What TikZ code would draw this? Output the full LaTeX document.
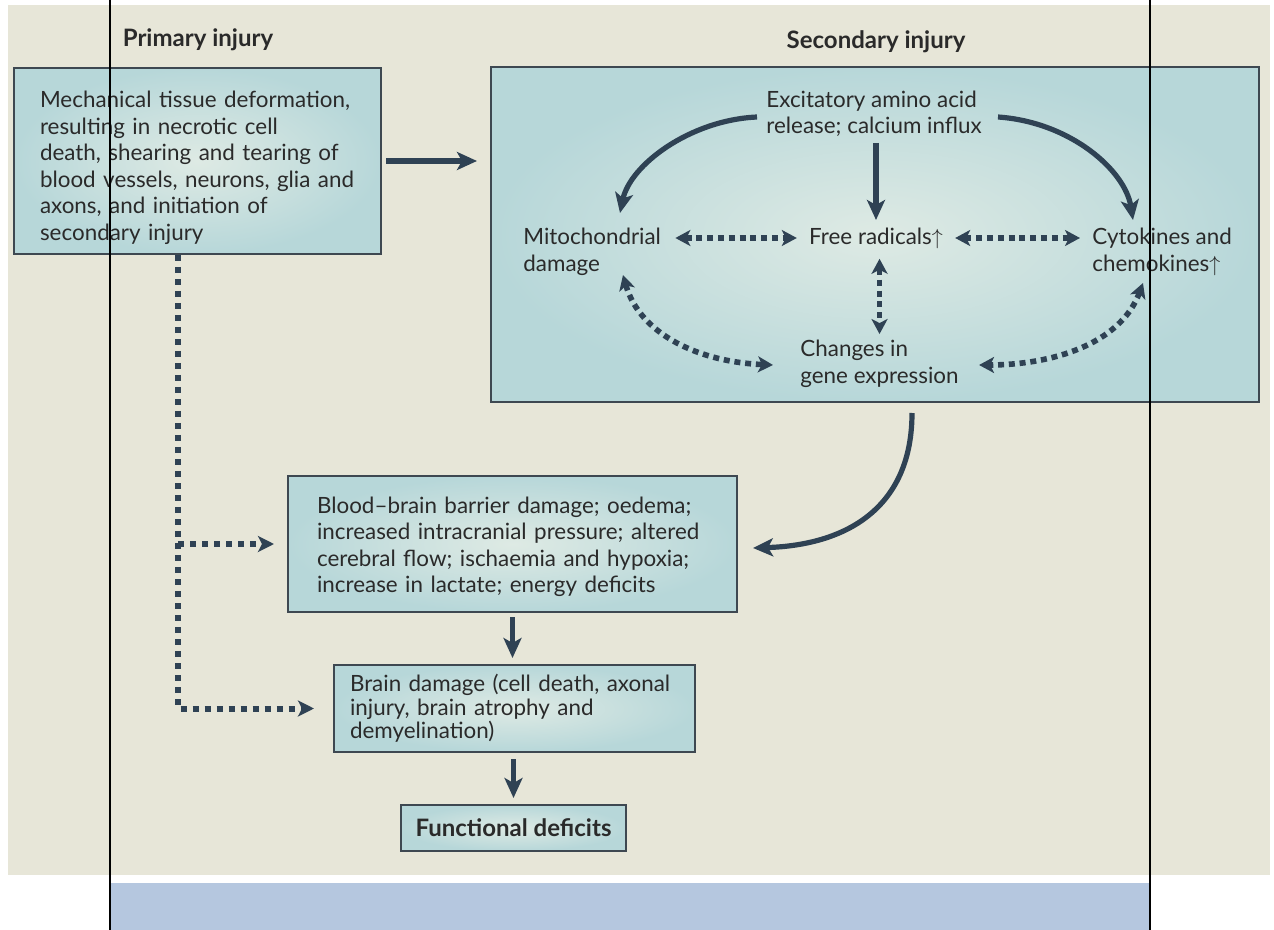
\documentclass[tikz,border=0pt]{standalone}
\usepackage{fontspec}
\setmainfont{Lato}
\usetikzlibrary{arrows.meta}

\definecolor{paper}{HTML}{E7E6D8}
\definecolor{strip}{HTML}{B5C7DF}
\definecolor{boxedge}{HTML}{B7D7D9}
\definecolor{boxmid}{HTML}{DEEAE4}
\definecolor{frame}{HTML}{3E4851}
\definecolor{ink}{HTML}{2F4254}
\definecolor{txt}{HTML}{2A2A2A}

\begin{document}
\begin{tikzpicture}[x=0.5pt, y=-0.5pt,
    font=\fontsize{11.2}{13.25}\selectfont, text=txt,
    box/.style={draw=frame, line width=1pt, inner color=boxmid, outer color=boxedge, align=left},
    heading/.style={font=\fontsize{12}{14}\selectfont\bfseries},
    label/.style={inner sep=0pt, align=left, anchor=west},
    sarrow/.style={draw=ink, line width=2.6pt, -{Stealth[length=10pt,width=9pt,inset=2.5pt]}},
    darrow/.style={draw=ink, line width=2.8pt, dash pattern=on 3pt off 2.4pt,
        {Stealth[length=7.5pt,width=8pt,inset=2pt]}-{Stealth[length=7.5pt,width=8pt,inset=2pt]}},
    dline/.style={draw=ink, line width=3pt, dash pattern=on 3pt off 3pt,
        -{Stealth[length=8pt,width=8pt,inset=2pt]}},
    ]
    \useasboundingbox (0,0) rectangle (1274,930);
    % backdrop
    \fill[paper] (8,5) rectangle (1270,875);
    \fill[strip] (110,883) rectangle (1150,930);

    % headings
    \node[heading] (primlbl) at (198,40) {Primary injury};
    \node[heading] (seclbl) at (876,42) {Secondary injury};

    % boxes
    \node[box, text width=157.5pt, inner xsep=13pt, minimum height=93pt] (prim) at (197.5,161)
        {\rule{0pt}{15pt}Mechanical tissue deformation,\\resulting in necrotic cell\\death, shearing and tearing of\\blood vessels, neurons, glia and\\axons, and initiation of\\secondary injury};
    \node[box, minimum width=384pt, minimum height=167.5pt] (sec) at (875,234.5) {};
    \node[box, text width=195.5pt, inner xsep=14.5pt, minimum height=68pt] (bbb) at (512.5,544)
        {\rule{0pt}{11pt}Blood--brain barrier damage; oedema;\\increased intracranial pressure; altered\\cerebral flow; ischaemia and hypoxia;\\increase in lactate; energy deficits};
    \node[box, text width=164.5pt, inner xsep=8pt, inner ysep=1pt, minimum height=43.5pt,
        font=\fontsize{11.2}{11.8}\selectfont] (damage) at (514.5,708.5)
        {Brain damage (cell death, axonal\\injury, brain atrophy and\\demyelination)};
    \node[box, minimum width=112.5pt, minimum height=23pt, font=\fontsize{12}{14}\selectfont\bfseries] (deficits) at (513.5,828)
        {Functional deficits};

    % secondary injury cycle
    \node[label] (excit) at (766,114) {Excitatory amino acid\\release; calcium influx};
    \node[label, anchor=center] (freerad) at (876,238) {Free radicals$\uparrow$};
    \node[label] (mito) at (523,252) {Mitochondrial\\damage};
    \node[label] (cyto) at (1092,252) {Cytokines and\\chemokines$\uparrow$};
    \node[label] (gene) at (800,364) {Changes in\\gene expression};

    \draw[sarrow] ([shift={(-9,3)}]excit.west) .. controls (690,120) and (630,165) .. ([shift={(97,-39)}]mito.west);
    \draw[sarrow] ([shift={(232,3)}]excit.west) .. controls (1070,122) and (1125,170) .. ([shift={(41,-32)}]cyto.west);
    \draw[sarrow] ([shift={(0,-95)}]freerad.center) -- ([shift={(0,-18)}]freerad.center);

    \draw[darrow, shorten <=7pt, shorten >=6pt] (mito.east |- freerad.center) -- (freerad.west);
    \draw[darrow, shorten <=6pt, shorten >=6pt] (freerad.east) -- (freerad.east -| cyto.west);
    \draw[darrow, shorten <=5pt, shorten >=3pt] (freerad.south -| gene.north) -- (gene.north);
    \draw[darrow] ([shift={(100,23)}]mito.west) .. controls (640,335) and (700,362) .. ([shift={(-27,1)}]gene.west);
    \draw[darrow] ([shift={(51,31)}]cyto.west) .. controls (1120,345) and (1050,365) .. ([shift={(20,1)}]gene.east);

    % main flow
    \draw[sarrow, shorten <=2pt, shorten >=6.5pt] (prim.east) -- (prim.east -| sec.west);
    \draw[sarrow] ([shift={(37,10)}]sec.south) .. controls (912,505) and (850,545) .. ([shift={(15,4)}]bbb.east);
    \draw[sarrow, shorten <=2pt, shorten >=3pt] (bbb.south) -- (bbb.south |- damage.north);
    \draw[sarrow, shorten <=3pt, shorten >=3pt] (damage.south -| deficits.north) -- (deficits.north);

    \coordinate (trunk) at (178,705);
    \draw[dline, shorten >=9.5pt] (prim.south -| trunk) |- (damage.west);
    \draw[dline, shorten >=6.5pt] (trunk |- bbb.west) -- (bbb.west);

    % frame lines
    \draw[black, line width=0.6pt] (110,0) -- (110,930);
    \draw[black, line width=0.6pt] (1150,0) -- (1150,930);
\end{tikzpicture}
\end{document}
